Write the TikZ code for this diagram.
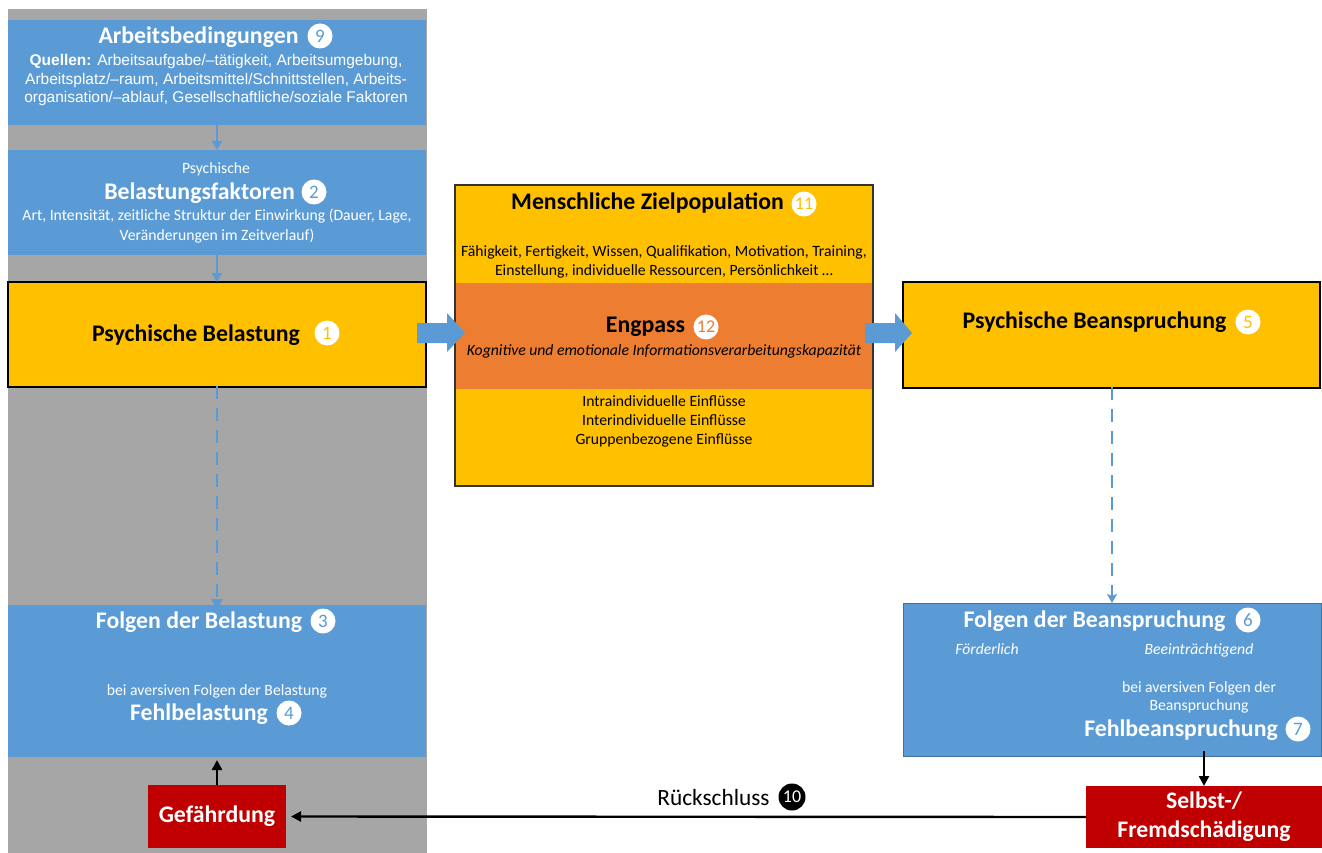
\documentclass[tikz,border=0pt]{standalone}
\usepackage{fontspec}
\setmainfont{Carlito}
\newfontfamily\arialfont{Liberation Sans}
\usetikzlibrary{arrows.meta}
\definecolor{cblue}{HTML}{5B9BD5}
\definecolor{cblueb}{HTML}{41719C}
\definecolor{cgray}{HTML}{A6A6A6}
\definecolor{cyellow}{HTML}{FFC000}
\definecolor{corange}{HTML}{ED7D31}
\definecolor{cred}{HTML}{C00000}
\newcommand{\fsz}[2]{\fontsize{#1}{#2}\selectfont}
\tikzset{
  box/.style={rectangle, inner sep=0, outer sep=0},
  bluebox/.style={box, fill=cblue},
  yelbox/.style={box, fill=cyellow, draw=black, line width=1.5pt},
  redbox/.style={box, fill=cred},
  ttl/.style={inner sep=0, font=\fsz{23.8}{28}\bfseries},
  wttl/.style={ttl, text=white},
  txt/.style={inner sep=0, align=center, font=\fsz{15.7}{19}},
  numc/.style={circle, fill=white, inner sep=0, minimum size=25, font=\fsz{19}{19}},
  smallarr/.style={draw=cblue, line width=2.5pt, -{Triangle[width=10pt,length=9pt]}},
  dasharr/.style={draw=cblue, line width=2.6pt, dash pattern=on 13pt off 9pt},
  blackarr/.style={draw=black, line width=2.4pt, -{Triangle[width=10pt,length=10pt]}},
  blockarr/.style={fill=cblue}
}
\begin{document}
\begin{tikzpicture}[x=1pt,y=-1pt]
\useasboundingbox (0,0) rectangle (1322,853);
\fill[cgray] (8,9) rectangle (427,853);

% boxes
\node[bluebox, minimum width=418, minimum height=105] (arb) at (217,72.5) {};
\node[bluebox, minimum width=418, minimum height=105] (belf) at (217,202.5) {};
\node[yelbox, minimum width=418, minimum height=105] (psyb) at (217,334.5) {};
\node[bluebox, minimum width=418, minimum height=152] (folb) at (217,681) {};
\node[redbox, minimum width=138, minimum height=63] (gef) at (217,816.5) {};
\node[box, fill=cyellow, minimum width=418, minimum height=301] (mz) at (664,335.5) {};
\node[box, fill=corange, minimum width=418, minimum height=106] (eng) at (664,336) {};
\node[box, draw=black!80, line width=1.5pt, minimum width=418, minimum height=301] (mzb) at (664,335.5) {};
\node[yelbox, minimum width=417, minimum height=106] (psybe) at (1111.5,335) {};
\node[bluebox, draw=cblueb, line width=0.8pt, minimum width=418, minimum height=153] (folbe) at (1112,679.5) {};
\node[redbox, minimum width=236, minimum height=62] (selbst) at (1204,817) {};

% connectors
\draw[smallarr] (arb.south) -- (belf.north);
\draw[smallarr] (belf.south) -- (psyb.north);
\draw[dasharr, -{Triangle[width=11pt,length=11pt]}] ([yshift=1]psyb.south) -- ([yshift=-5]folb.north);
\draw[dasharr, -{Stealth[width=10pt,length=9pt,inset=2pt]}] ([yshift=1]psybe.south -| 1112,0) -- (folbe.north -| 1112,0);
\draw[blackarr] (gef.north) -- ([yshift=-3]folb.south);
\draw[blackarr] ([yshift=5]folbe.south -| selbst.north) -- (selbst.north);
\draw[blackarr] (selbst.west) -- ([xshift=5]gef.east);

% block arrows
\coordinate (ba1) at (417,333);
\coordinate (ba2) at (865,333);
\fill[blockarr] (ba1) ++(0,-10) -- ++(30,0) -- ++(0,-10) -- ++(18,20) -- ++(-18,19) -- ++(0,-9) -- ++(-30,0) -- cycle;
\fill[blockarr] (ba2) ++(0,-10) -- ++(30,0) -- ++(0,-10) -- ++(17,20) -- ++(-17,19) -- ++(0,-9) -- ++(-30,0) -- cycle;

% texts: Arbeitsbedingungen
\node[wttl] (t9) at (198.5,37) {Arbeitsbedingungen};
\node[numc, text=cblue] (n9) at (320,36) {9};
\node[inner sep=0, align=center, text=white, font=\arialfont\fsz{15.5}{18.8}] (tq) at (216,80)
  {\textbf{Quellen:} Arbeitsaufgabe/–tätigkeit, Arbeitsumgebung,\\Arbeitsplatz/–raum, Arbeitsmittel/Schnittstellen, Arbeits-\\organisation/–ablauf, Gesellschaftliche/soziale Faktoren};

% Belastungsfaktoren
\node[txt, text=white] (tps) at (216,169) {Psychische};
\node[wttl] (t2) at (199.5,193) {Belastungsfaktoren};
\node[numc, text=cblue] (n2) at (314,192) {2};
\node[txt, text=white, font=\fsz{15.7}{20}] (tart) at (217,226) {Art, Intensität, zeitliche Struktur der Einwirkung (Dauer, Lage,\\Veränderungen im Zeitverlauf)};

% Psychische Belastung
\node[ttl] (t1) at (196,335) {Psychische Belastung};
\node[numc, text=cyellow] (n1) at (327,333) {1};

% Folgen der Belastung
\node[wttl] (t3) at (199,622) {Folgen der Belastung};
\node[numc, text=cblue] (n3) at (323,621) {3};
\node[txt, text=white] (tbav) at (217,691) {bei aversiven Folgen der Belastung};
\node[wttl] (t4) at (199,714) {Fehlbelastung};
\node[numc, text=cblue] (n4) at (289,713) {4};

% Gefaehrdung
\node[wttl] (tgef) at (gef.center) {Gefährdung};

% Menschliche Zielpopulation
\node[ttl] (t11) at (647.5,203) {Menschliche Zielpopulation};
\node[numc, text=cyellow, font=\fsz{18}{18}] (n11) at (804,204) {11};
\node[txt] (tfae) at (664,261.5) {Fähigkeit, Fertigkeit, Wissen, Qualifikation, Motivation, Training,\\Einstellung, individuelle Ressourcen, Persönlichkeit …};
\node[ttl] (t12) at (645.5,327) {Engpass};
\node[numc, text=corange, font=\fsz{18}{18}] (n12) at (706,327) {12};
\node[txt, font=\fsz{15.7}{19}\itshape] (tkog) at (664,351) {Kognitive und emotionale Informationsverarbeitungskapazität};
\node[txt] (tinf) at (664,421) {Intraindividuelle Einflüsse\\Interindividuelle Einflüsse\\Gruppenbezogene Einflüsse};

% Psychische Beanspruchung
\node[ttl] (t5) at (1094.5,322) {Psychische Beanspruchung};
\node[numc, text=cyellow] (n5) at (1248,322) {5};

% Folgen der Beanspruchung
\node[wttl] (t6) at (1094.5,621) {Folgen der Beanspruchung};
\node[numc, text=cblue] (n6) at (1248,620) {6};
\node[txt, text=white, font=\fsz{15.7}{19}\itshape] (tfoe) at (987,649) {Förderlich};
\node[txt, text=white, font=\fsz{15.7}{19}\itshape] (tbee) at (1199,650) {Beeinträchtigend};
\node[txt, text=white, font=\fsz{15.7}{18}] (tbav2) at (1199,697) {bei aversiven Folgen der\\Beanspruchung};
\node[wttl] (t7) at (1181,730) {Fehlbeanspruchung};
\node[numc, text=cblue] (n7) at (1298,729) {7};

% Selbst
\node[wttl, align=center, font=\fsz{23.7}{29}\bfseries] (tsel) at (selbst.center) {Selbst-/\\Fremdschädigung};

% Rueckschluss
\node[inner sep=0, font=\fsz{23.3}{26}] (t10) at (713.5,797) {Rückschluss};
\node[numc, fill=black, text=white, minimum size=27, font=\fsz{18}{18}] (n10) at (792,797) {10};
\end{tikzpicture}
\end{document}
